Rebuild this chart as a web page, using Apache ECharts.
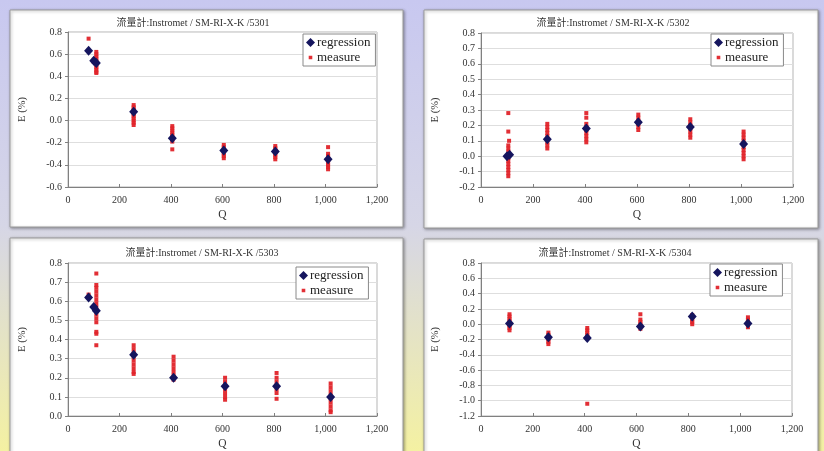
<!DOCTYPE html>
<html>
<head>
<meta charset="utf-8">
<script src="https://cdn.jsdelivr.net/npm/echarts@6/dist/echarts.min.js"></script>
<style>
html,body{margin:0;padding:0;}
#main{width:824px;height:451px;}
</style>
</head>
<body>
<div id="main"></div>
<script>
// ---- data ----
const titles = ['流量計:Instromet / SM-RI-X-K /5301','流量計:Instromet / SM-RI-X-K /5302','流量計:Instromet / SM-RI-X-K /5303','流量計:Instromet / SM-RI-X-K /5304'];
const xTicks = [0,200,400,600,800,1000,1200];
const yMin = [-0.6,-0.2,0.0,-1.2];
const yMax = [0.8,0.8,0.8,0.8];
const yStep = [0.2,0.1,0.1,0.2];

const reg5301 = [[80,0.63],[100,0.54],[110,0.52],[255,0.08],[405,-0.16],[605,-0.27],[805,-0.28],[1010,-0.35]];
const meas5301 = [[80,0.74],[100,0.55],[100,0.53],[110,0.62],[110,0.60],[110,0.58],[110,0.56],[110,0.54],[110,0.52],[110,0.50],[110,0.48],[110,0.46],[110,0.44],[110,0.43],
 [255,0.14],[255,0.12],[255,0.10],[255,0.08],[255,0.06],[255,0.04],[255,0.02],[255,0.0],[255,-0.02],[255,-0.04],
 [405,-0.05],[405,-0.07],[405,-0.09],[405,-0.11],[405,-0.13],[405,-0.15],[405,-0.17],[405,-0.19],[405,-0.26],
 [605,-0.22],[605,-0.24],[605,-0.26],[605,-0.28],[605,-0.30],[605,-0.32],[605,-0.34],
 [805,-0.23],[805,-0.25],[805,-0.27],[805,-0.29],[805,-0.31],[805,-0.33],[805,-0.35],
 [1010,-0.24],[1010,-0.30],[1010,-0.32],[1010,-0.34],[1010,-0.36],[1010,-0.38],[1010,-0.40],[1010,-0.42],[1010,-0.44]];

const reg5302 = [[100,0.0],[110,0.01],[255,0.11],[405,0.18],[605,0.22],[805,0.19],[1010,0.08]];
const meas5302 = [[105,0.28],[105,0.16],[108,0.10],[105,0.07],[105,0.05],[105,0.03],[105,0.01],[105,-0.01],[105,-0.03],[105,-0.05],[105,-0.07],[105,-0.09],[105,-0.11],[105,-0.13],
 [255,0.21],[255,0.19],[255,0.17],[255,0.15],[255,0.13],[255,0.11],[255,0.09],[255,0.07],[255,0.05],
 [405,0.28],[405,0.25],[405,0.21],[405,0.19],[405,0.17],[405,0.15],[405,0.13],[405,0.11],[405,0.09],
 [605,0.27],[605,0.25],[605,0.23],[605,0.21],[605,0.19],[605,0.17],
 [805,0.24],[805,0.22],[805,0.20],[805,0.18],[805,0.16],[805,0.14],[805,0.12],
 [1010,0.16],[1010,0.14],[1010,0.12],[1010,0.10],[1010,0.08],[1010,0.06],[1010,0.04],[1010,0.02],[1010,0.0],[1010,-0.02]];

const reg5303 = [[80,0.62],[100,0.57],[110,0.55],[255,0.32],[410,0.20],[610,0.155],[810,0.155],[1020,0.10]];
const meas5303 = [[80,0.635],[110,0.745],[110,0.685],[110,0.67],[110,0.65],[110,0.63],[110,0.61],[110,0.59],[110,0.57],[110,0.55],[110,0.53],[110,0.51],[110,0.49],[110,0.44],[110,0.43],[110,0.37],
 [255,0.37],[255,0.35],[255,0.33],[255,0.31],[255,0.29],[255,0.27],[255,0.25],[255,0.23],[255,0.22],
 [410,0.31],[410,0.29],[410,0.27],[410,0.25],[410,0.23],[410,0.21],[410,0.19],
 [610,0.20],[610,0.18],[610,0.16],[610,0.14],[610,0.12],[610,0.10],[610,0.085],
 [810,0.225],[810,0.20],[810,0.18],[810,0.16],[810,0.14],[810,0.12],[810,0.09],
 [1020,0.17],[1020,0.15],[1020,0.13],[1020,0.11],[1020,0.09],[1020,0.07],[1020,0.05],[1020,0.03],[1020,0.02]];

const reg5304 = [[110,0.01],[260,-0.17],[410,-0.18],[615,-0.03],[815,0.10],[1030,0.01]];
const meas5304 = [[110,0.13],[110,0.10],[110,0.07],[110,0.04],[110,0.01],[110,-0.02],[110,-0.05],[110,-0.08],
 [260,-0.11],[260,-0.14],[260,-0.17],[260,-0.20],[260,-0.23],[260,-0.26],
 [410,-0.05],[410,-0.08],[410,-0.11],[410,-0.14],[410,-0.17],[410,-1.04],
 [615,0.13],[615,0.06],[615,0.03],[615,0.0],[615,-0.03],[615,-0.06],
 [815,0.12],[815,0.09],[815,0.06],[815,0.03],[815,0.0],
 [1030,0.09],[1030,0.06],[1030,0.03],[1030,0.0],[1030,-0.04]];

const regData = [reg5301, reg5302, reg5303, reg5304];
const measData = [meas5301, meas5302, meas5303, meas5304];

// ---- layout ----
const grids = [
  {left:68, top:32, width:309, height:155},
  {left:481, top:33, width:312, height:154},
  {left:68, top:263, width:309, height:154},
  {left:481, top:263, width:311, height:154}
];
const boxes = [
  {x:10, y:10, width:393, height:217},
  {x:424, y:10, width:394, height:218},
  {x:10, y:238, width:393, height:230},
  {x:424, y:239, width:394, height:230}
];
const titlePos = [[193,18],[613,18],[202,248],[615,248]];
const legendPos = [[303,34],[711,34],[296,267],[710,264]];

const serif = '"Liberation Serif", "Times New Roman", serif';
const NAVY = '#15155e', RED = '#e0242a';

const chart = echarts.init(document.getElementById('main'));
const option = {
  backgroundColor: new echarts.graphic.LinearGradient(0,0,0,1,[
    {offset:0, color:'#c8c8f0'},
    {offset:0.5, color:'#d6d6e6'},
    {offset:1, color:'#f4f1a2'}
  ]),
  animation:false,
  graphic: boxes.map(b => ({
    type:'rect', z:-10, shape:b,
    style:{fill:'#ffffff', stroke:'#9a9a9a', lineWidth:1, shadowBlur:3, shadowOffsetX:1, shadowOffsetY:1, shadowColor:'rgba(0,0,0,0.35)'}
  })),
  title: titles.map((t,i) => ({
    text:t, left:titlePos[i][0], top:titlePos[i][1], textAlign:'center', padding:0,
    textStyle:{fontFamily:'"Liberation Serif","Noto Sans CJK TC",serif', fontSize:10, fontWeight:'normal', color:'#333'}
  })),
  legend: legendPos.map((p,i) => ({
    left:p[0], top:p[1], orient:'vertical', itemGap:2, itemWidth:9, itemHeight:9,
    backgroundColor:'#fff', borderColor:'#8a8a8a', borderWidth:1, padding:[2,5,2,3],
    textStyle:{fontFamily:serif, fontSize:13, color:'#222', padding:[0,0,0,-3]},
    data:[{name:'regression', icon:'diamond'}, {name:'measure', icon:'path://M0,0L0,0.01M10,10L10,10.01M3,3H7V7H3Z'}],
    selectedMode:false
  })),
  grid: grids.map(g => Object.assign({show:true, borderColor:'#b5b5b5', borderWidth:1, backgroundColor:'#fff'}, g)),
  xAxis: grids.map((g,i) => ({
    type:'value', gridIndex:i, min:0, max:1200, interval:200,
    name:'Q', nameLocation:'middle', nameGap:22,
    nameTextStyle:{fontFamily:serif, fontSize:11.5, color:'#333'},
    axisLine:{show:true, onZero:false, lineStyle:{color:'#808080'}},
    axisTick:{show:true, inside:true, length:3, lineStyle:{color:'#808080'}},
    axisLabel:{fontFamily:serif, fontSize:10, color:'#333', margin:8,
      formatter: v => v.toLocaleString('en-US')},
    splitLine:{show:false}
  })),
  yAxis: grids.map((g,i) => ({
    type:'value', gridIndex:i, min:yMin[i], max:yMax[i], interval:yStep[i],
    name:'E (%)', nameLocation:'middle', nameGap:40, nameRotate:90,
    nameTextStyle:{fontFamily:serif, fontSize:10.5, color:'#333'},
    axisLine:{show:true, onZero:false, lineStyle:{color:'#808080'}},
    axisTick:{show:true, inside:false, length:3, lineStyle:{color:'#808080'}},
    axisLabel:{fontFamily:serif, fontSize:10, color:'#333', margin:6,
      formatter: v => v.toFixed(1)},
    splitLine:{show:true, lineStyle:{color:'#dedede'}}
  })),
  series: []
};
for (let i=0;i<4;i++){
  option.series.push({
    name:'measure', type:'scatter', xAxisIndex:i, yAxisIndex:i, data:measData[i],
    symbol:'rect', symbolSize:4, itemStyle:{color:RED, opacity:0.95}, z:2
  });
  option.series.push({
    name:'regression', type:'scatter', xAxisIndex:i, yAxisIndex:i, data:regData[i],
    symbol:'diamond', symbolSize:[9,10], itemStyle:{color:NAVY, opacity:1}, z:3
  });
}
chart.setOption(option);
</script>
</body>
</html>
